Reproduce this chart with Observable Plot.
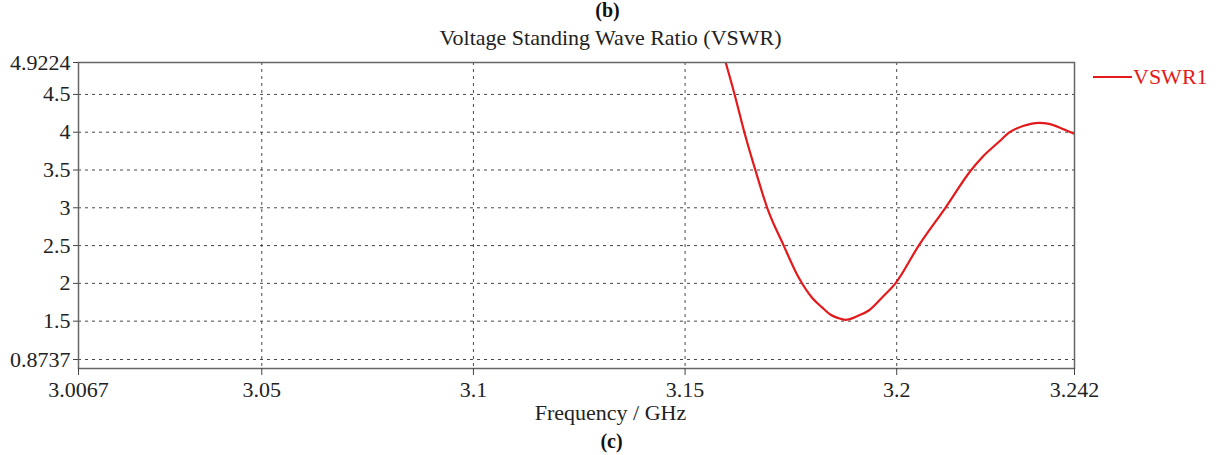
<!DOCTYPE html>
<html>
<head>
<meta charset="utf-8">
<script src="https://cdn.jsdelivr.net/npm/d3@7"></script>
<script src="https://cdn.jsdelivr.net/npm/@observablehq/plot@0.6"></script>
<style>
  html, body { margin: 0; padding: 0; background: #fff; }
  #wrap { position: relative; width: 1219px; height: 455px; font-family: "Liberation Serif", "Times New Roman", serif; }
  #wrap svg, #wrap svg text { font-family: "Liberation Serif", "Times New Roman", serif !important; }
  #legend { position: absolute; left: 1093px; top: 64px; color: #e3191b; font-size: 22px; line-height: 26px; display: flex; align-items: center; white-space: nowrap; }
  #legend .sw { display: inline-block; width: 39px; height: 2px; background: #e3191b; margin-right: 1px; }
</style>
</head>
<body>
<div id="wrap"></div>
<script>
// ---- data ----
const freqGHz = [3.1596, 3.1617, 3.1640, 3.1666, 3.1694, 3.1733, 3.1768, 3.1800, 3.1823, 3.1843, 3.1862, 3.1879,
                 3.1910, 3.1934, 3.1966, 3.1997, 3.2052, 3.2115, 3.2176, 3.2202, 3.2241, 3.2267, 3.2300, 3.2336,
                 3.2360, 3.2391, 3.2420];
const vswr1   = [4.9224, 4.5, 4.0, 3.5, 3.0, 2.5, 2.08, 1.81, 1.685, 1.588, 1.54, 1.518,
                 1.575, 1.641, 1.817, 2.0, 2.5, 3.0, 3.5, 3.669, 3.87, 4.0, 4.085, 4.124,
                 4.111, 4.045, 3.979];
const xDomain = [3.0067, 3.242];
const yDomain = [0.8737, 4.9224];
const xTicks = [3.0067, 3.05, 3.1, 3.15, 3.2, 3.242];
const xTickLabels = ["3.0067", "3.05", "3.1", "3.15", "3.2", "3.242"];
const xGridTicks = [3.05, 3.1, 3.15, 3.2];
const yTicks = [1.5, 2, 2.5, 3, 3.5, 4, 4.5, 4.9224];
const yTickLabels = ["1.5", "2", "2.5", "3", "3.5", "4", "4.5", "4.9224"];
const yGridTicks = [1.5, 2, 2.5, 3, 3.5, 4, 4.5];
const yBottomTick = [0.8737];
const yBottomLabel = ["0.8737"];
const titleTop = "(b)";
const title = "Voltage Standing Wave Ratio (VSWR)";
const xLabel = "Frequency / GHz";
const captionBottom = "(c)";
const seriesName = "VSWR1";

const data = freqGHz.map((f, i) => ({f, v: vswr1[i]}));
const FF = "'Liberation Serif', 'Times New Roman', serif";
const gridStyle = {stroke: "#333", strokeOpacity: 0.9, strokeWidth: 1, strokeDasharray: "3,4"};

const chart = Plot.plot({
  width: 1219,
  height: 455,
  marginLeft: 78,
  marginRight: 145,
  marginTop: 62,
  marginBottom: 87,
  style: {fontFamily: FF, fontSize: "22px", color: "#222", background: "#fff"},
  x: {domain: xDomain},
  y: {domain: yDomain},
  marks: [
    Plot.gridX(xGridTicks, gridStyle),
    Plot.gridY(yGridTicks, gridStyle),
    Plot.gridY(yBottomTick, {...gridStyle, dy: -9}),
    Plot.line(data, {x: "f", y: "v", stroke: "#e3191b", strokeWidth: 2.2, curve: "monotone-x", clip: true}),
    Plot.frame({stroke: "#666", strokeWidth: 1.5}),
    Plot.axisX(xTicks, {tickSize: 7, tickPadding: 6, stroke: "#444", tickFormat: (d, i) => xTickLabels[i], label: null, fontSize: 22, fontFamily: FF}),
    Plot.axisY(yTicks, {tickSize: 5, tickPadding: 3, stroke: "#444", tickFormat: (d, i) => yTickLabels[i], label: null, fontSize: 22, fontFamily: FF}),
    Plot.axisY(yBottomTick, {tickSize: 5, tickPadding: 3, stroke: "#444", dy: -9, tickFormat: (d, i) => yBottomLabel[i], label: null, fontSize: 22, fontFamily: FF}),
    Plot.text([xLabel], {frameAnchor: "bottom", lineAnchor: "middle", dx: 34, dy: 44, fontSize: 22, fill: "#222", fontFamily: FF}),
    Plot.text([captionBottom], {frameAnchor: "bottom", lineAnchor: "middle", dx: 35, dy: 73, fontSize: 20, fontWeight: "bold", fill: "#111", fontFamily: FF}),
    Plot.text([title], {frameAnchor: "top", lineAnchor: "middle", dx: 34, dy: -25, fontSize: 22, fill: "#222", fontFamily: FF}),
    Plot.text([titleTop], {frameAnchor: "top", lineAnchor: "middle", dx: 31, dy: -52, fontSize: 20, fontWeight: "bold", fill: "#111", fontFamily: FF})
  ]
});

const wrap = document.getElementById("wrap");
wrap.appendChild(chart);
const legend = document.createElement("div");
legend.id = "legend";
legend.innerHTML = `<span class="sw"></span><span>${seriesName}</span>`;
wrap.appendChild(legend);
</script>
</body>
</html>
